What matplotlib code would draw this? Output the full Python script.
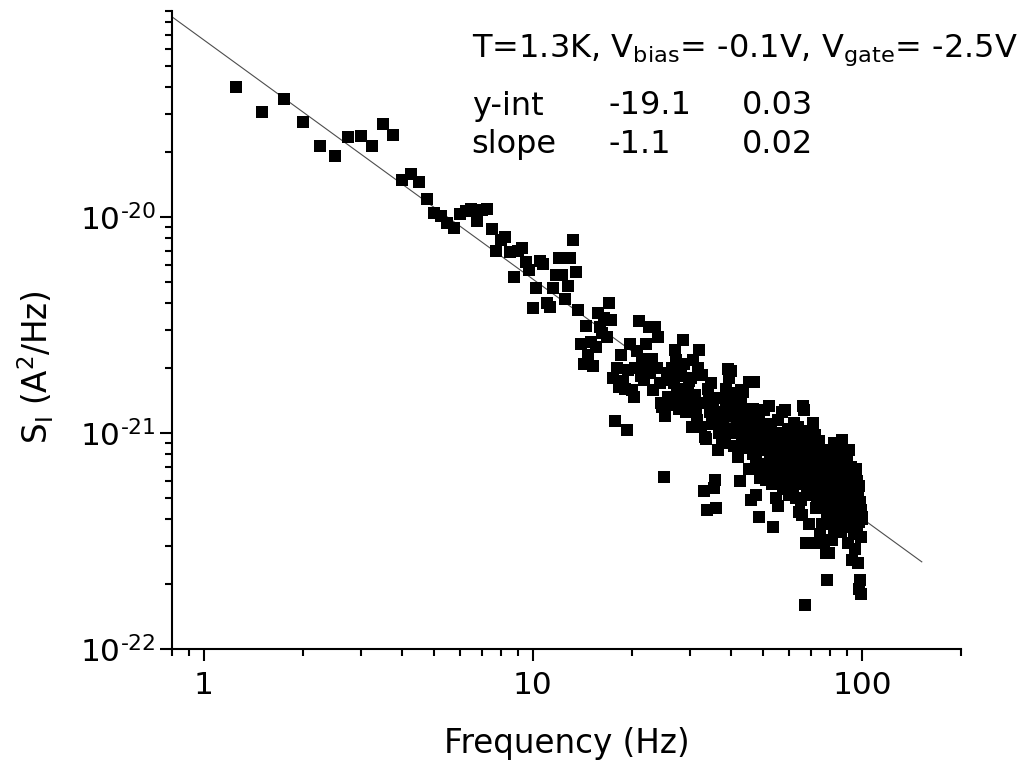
import numpy as np
import matplotlib
matplotlib.use('Agg')
import matplotlib.pyplot as plt
from matplotlib.ticker import LogLocator, FixedLocator, FuncFormatter, NullFormatter

plt.rcParams['font.family'] = ['DejaVu Sans']
plt.rcParams['mathtext.fontset'] = 'custom'
plt.rcParams['mathtext.rm'] = 'DejaVu Sans'
plt.rcParams['mathtext.it'] = 'DejaVu Sans:italic'

#%% data (0.25 Hz grid), S_I in units of 1e-21 A^2/Hz
freq = [1.25, 1.5, 1.75, 2.0, 2.25, 2.5, 2.75, 3.0,
        3.25, 3.5, 3.75, 4.0, 4.25, 4.5, 4.75, 5.0,
        5.25, 5.5, 5.75, 6.0, 6.25, 6.5, 6.75, 7.0,
        7.25, 7.5, 7.75, 8.0, 8.25, 8.5, 8.75, 9.0,
        9.25, 9.5, 9.75, 10.0, 10.25, 10.5, 10.75, 11.0,
        11.25, 11.5, 11.75, 12.0, 12.25, 12.5, 12.75, 13.0,
        13.25, 13.5, 13.75, 14.0, 14.25, 14.5, 14.75, 15.0,
        15.25, 15.5, 15.75, 16.0, 16.25, 16.5, 16.75, 17.0,
        17.25, 17.5, 17.75, 18.0, 18.25, 18.5, 18.75, 19.0,
        19.25, 19.5, 19.75, 20.0, 20.25, 20.5, 20.75, 21.0,
        21.25, 21.5, 21.75, 22.0, 22.25, 22.5, 22.75, 23.0,
        23.25, 23.5, 23.75, 24.0, 24.25, 24.5, 24.75, 25.0,
        25.25, 25.5, 25.75, 26.0, 26.25, 26.5, 26.75, 27.0,
        27.25, 27.5, 27.75, 28.0, 28.25, 28.5, 28.75, 29.0,
        29.25, 29.5, 29.75, 30.0, 30.25, 30.5, 30.75, 31.0,
        31.25, 31.5, 31.75, 32.0, 32.25, 32.5, 32.75, 33.0,
        33.25, 33.5, 33.75, 34.0, 34.25, 34.5, 34.75, 35.0,
        35.25, 35.5, 35.75, 36.0, 36.25, 36.5, 36.75, 37.0,
        37.25, 37.5, 37.75, 38.0, 38.25, 38.5, 38.75, 39.0,
        39.25, 39.5, 39.75, 40.0, 40.25, 40.5, 40.75, 41.0,
        41.25, 41.5, 41.75, 42.0, 42.25, 42.5, 42.75, 43.0,
        43.25, 43.5, 43.75, 44.0, 44.25, 44.5, 44.75, 45.0,
        45.25, 45.5, 45.75, 46.0, 46.25, 46.5, 46.75, 47.0,
        47.25, 47.5, 47.75, 48.0, 48.25, 48.5, 48.75, 49.0,
        49.25, 49.5, 49.75, 50.0, 50.25, 50.5, 50.75, 51.0,
        51.25, 51.5, 51.75, 52.0, 52.25, 52.5, 52.75, 53.0,
        53.25, 53.5, 53.75, 54.0, 54.25, 54.5, 54.75, 55.0,
        55.25, 55.5, 55.75, 56.0, 56.25, 56.5, 56.75, 57.0,
        57.25, 57.5, 57.75, 58.0, 58.25, 58.5, 58.75, 59.0,
        59.25, 59.5, 59.75, 60.0, 60.25, 60.5, 60.75, 61.0,
        61.25, 61.5, 61.75, 62.0, 62.25, 62.5, 62.75, 63.0,
        63.25, 63.5, 63.75, 64.0, 64.25, 64.5, 64.75, 65.0,
        65.25, 65.5, 65.75, 66.0, 66.25, 66.5, 66.75, 67.0,
        67.25, 67.5, 67.75, 68.0, 68.25, 68.5, 68.75, 69.0,
        69.25, 69.5, 69.75, 70.0, 70.25, 70.5, 70.75, 71.0,
        71.25, 71.5, 71.75, 72.0, 72.25, 72.5, 72.75, 73.0,
        73.25, 73.5, 73.75, 74.0, 74.25, 74.5, 74.75, 75.0,
        75.25, 75.5, 75.75, 76.0, 76.25, 76.5, 76.75, 77.0,
        77.25, 77.5, 77.75, 78.0, 78.25, 78.5, 78.75, 79.0,
        79.25, 79.5, 79.75, 80.0, 80.25, 80.5, 80.75, 81.0,
        81.25, 81.5, 81.75, 82.0, 82.25, 82.5, 82.75, 83.0,
        83.25, 83.5, 83.75, 84.0, 84.25, 84.5, 84.75, 85.0,
        85.25, 85.5, 85.75, 86.0, 86.25, 86.5, 86.75, 87.0,
        87.25, 87.5, 87.75, 88.0, 88.25, 88.5, 88.75, 89.0,
        89.25, 89.5, 89.75, 90.0, 90.25, 90.5, 90.75, 91.0,
        91.25, 91.5, 91.75, 92.0, 92.25, 92.5, 92.75, 93.0,
        93.25, 93.5, 93.75, 94.0, 94.25, 94.5, 94.75, 95.0,
        95.25, 95.5, 95.75, 96.0, 96.25, 96.5, 96.75, 97.0,
        97.25, 97.5, 97.75, 98.0, 98.25, 98.5, 98.75, 99.0,
        99.25, 99.5, 99.75, 100.0]

psd_e21 = [40.1, 30.6, 35.2, 27.5, 21.3, 19.1, 23.5, 23.8,
           21.3, 26.9, 23.9, 14.9, 15.9, 14.5, 12.1, 10.4,
           10.1, 9.35, 8.9, 10.3, 10.7, 10.9, 9.6, 10.8,
           10.9, 8.8, 7.0, 7.8, 8.1, 6.9, 5.3, 7.0,
           7.2, 6.2, 5.7, 3.8, 4.7, 6.3, 6.1, 4.0,
           3.85, 4.7, 5.4, 6.5, 5.4, 4.2, 4.8, 6.5,
           7.8, 5.6, 3.7, 2.6, 2.1, 3.15, 2.3, 2.65,
           2.05, 2.5, 3.6, 3.1, 2.9, 3.4, 2.8, 4.0,
           3.35, 1.8, 1.14, 2.0, 1.64, 2.3, 1.75, 1.6,
           1.03, 1.96, 2.6, 1.58, 1.47, 2.0, 2.4, 3.3,
           1.85, 2.2, 1.76, 2.6, 2.1, 3.1, 1.9, 2.2,
           1.58, 3.1, 2.0, 2.8, 1.7, 1.38, 1.32, 0.63,
           1.2, 1.76, 1.47, 1.9, 1.35, 2.0, 1.7, 2.43,
           2.18, 1.6, 1.3, 1.42, 1.85, 2.7, 2.1, 1.5,
           1.25, 1.58, 1.75, 1.4, 1.8, 1.07, 2.18, 1.5,
           1.28, 1.15, 2.0, 2.43, 1.38, 1.07, 1.86, 0.54,
           0.96, 0.94, 0.44, 1.6, 1.42, 1.25, 1.7, 1.1,
           1.3, 0.56, 0.61, 0.45, 1.19, 0.84, 1.0, 1.45,
           1.1, 0.9, 1.15, 1.25, 0.95, 1.6, 1.42, 1.05,
           1.99, 1.8, 1.3, 1.95, 1.47, 1.2, 0.87, 1.53,
           1.35, 1.0, 1.1, 0.78, 1.25, 0.6, 1.58, 1.4,
           0.92, 1.55, 1.15, 1.03, 0.85, 1.3, 0.97, 1.2,
           1.72, 0.68, 1.1, 0.49, 0.91, 1.3, 0.8, 1.72,
           1.05, 0.52, 0.75, 1.2, 0.95, 0.41, 1.15, 0.62,
           0.9, 0.7, 1.0, 0.85, 1.28, 0.84, 0.95, 0.61,
           1.1, 0.72, 0.88, 1.33, 0.65, 0.8, 1.05, 0.75,
           0.58, 0.92, 0.37, 0.7, 1.0, 0.82, 0.5, 0.96,
           0.66, 1.15, 0.46, 0.78, 0.9, 0.62, 1.0, 0.7,
           1.26, 0.85, 0.55, 0.93, 0.74, 1.28, 0.6, 0.9,
           0.68, 0.82, 1.05, 0.52, 0.85, 0.7, 1.0, 0.62,
           0.78, 0.95, 0.55, 0.75, 1.12, 0.66, 0.88, 0.5,
           0.8, 0.7, 1.07, 0.6, 0.9, 0.43, 0.74, 0.98,
           0.49, 0.82, 0.42, 0.68, 1.33, 0.58, 1.28, 0.76,
           0.16, 0.31, 0.88, 0.64, 0.52, 0.95, 0.7, 0.38,
           0.8, 0.6, 1.02, 0.72, 0.9, 0.55, 1.11, 0.66,
           0.31, 0.8, 0.98, 0.6, 0.72, 0.45, 0.86, 0.5,
           0.31, 0.7, 0.58, 0.92, 0.48, 0.64, 0.34, 0.76,
           0.55, 0.38, 0.84, 0.62, 0.45, 0.7, 0.31, 0.52,
           0.8, 0.58, 0.28, 0.66, 0.42, 0.21, 0.74, 0.5,
           0.6, 0.28, 0.44, 0.68, 0.55, 0.8, 0.4, 0.62,
           0.32, 0.7, 0.48, 0.9, 0.58, 0.36, 0.66, 0.5,
           0.75, 0.44, 0.6, 0.38, 0.85, 0.53, 0.68, 0.41,
           0.57, 0.72, 0.46, 0.63, 0.35, 0.55, 0.93, 0.5,
           0.7, 0.42, 0.6, 0.37, 0.78, 0.52, 0.65, 0.45,
           0.58, 0.4, 0.84, 0.56, 0.74, 0.48, 0.62, 0.31,
           0.55, 0.84, 0.43, 0.66, 0.5, 0.38, 0.7, 0.45,
           0.58, 0.26, 0.52, 0.64, 0.4, 0.6, 0.34, 0.56,
           0.47, 0.29, 0.68, 0.42, 0.53, 0.36, 0.6, 0.25,
           0.45, 0.5, 0.19, 0.57, 0.39, 0.21, 0.48, 0.44,
           0.33, 0.18, 0.41, 0.4]

# straight fit line as drawn (log10 S = a + b*log10 f)
fit_a = -19.18
fit_b = -1.107
fit_range = [0.8, 152]

x_major = [1, 10, 100]
y_major = [1e-22, 1e-21, 1e-20]

header = r'T=1.3K, V$_{\mathregular{bias}}$= -0.1V, V$_{\mathregular{gate}}$= -2.5V'
row_names = ['y-int', 'slope']
row_values = ['-19.1', '-1.1']
row_errors = ['0.03', '0.02']

#%% plot
W, H = 1026, 763
fig = plt.figure(figsize=(W/100, H/100), dpi=100)
ax = fig.add_axes([172/W, 1-649.3/H, (961-172)/W, (649.3-11)/H])

f_fit = np.array(fit_range)
ax.plot(f_fit, 10**(fit_a + fit_b*np.log10(f_fit)), color='0.3', lw=0.8, zorder=2)
ax.plot(freq, np.array(psd_e21)*1e-21, 's', ms=8, mfc='k', mec='k', mew=0, zorder=3)

ax.set_xscale('log')
ax.set_yscale('log')
ax.set_xlim(0.8, 200)
ax.set_ylim(1e-22, 9e-20)

for s in ['top', 'right']:
    ax.spines[s].set_visible(False)
for s in ['left', 'bottom']:
    ax.spines[s].set_linewidth(1.5)

ax.xaxis.set_major_locator(FixedLocator(x_major))
ax.yaxis.set_major_locator(FixedLocator(y_major))
ax.xaxis.set_minor_locator(LogLocator(base=10, subs=np.arange(2, 10)))
ax.yaxis.set_minor_locator(LogLocator(base=10, subs=np.arange(2, 10)))
ax.xaxis.set_major_formatter(FuncFormatter(lambda v, p: '%g' % v))
# hyphen (U+2010) in the exponent, like the original
ax.yaxis.set_major_formatter(FuncFormatter(
    lambda v, p: '$\\mathregular{10^{\u2010%d}}$' % abs(round(np.log10(v)))))
ax.xaxis.set_minor_formatter(NullFormatter())
ax.yaxis.set_minor_formatter(NullFormatter())
ax.tick_params(which='major', direction='out', length=8.6, width=1.5,
               labelsize=22.5)
ax.tick_params(axis='x', which='major', pad=7)
ax.tick_params(axis='y', which='major', pad=3)
ax.tick_params(which='minor', direction='out', length=5, width=1.5)

ax.set_xlabel('Frequency (Hz)', fontsize=23.5)
ax.set_ylabel(r'S$_\mathregular{I}$ (A$^\mathregular{2}$/Hz)', fontsize=23.5)
ax.xaxis.set_label_coords(0.5, -0.121)
ax.yaxis.set_label_coords(-0.147, 0.442)

fig.text(471.7/W, 1-56.7/H, header, fontsize=23, va='baseline')
for i, base in enumerate([114.5, 153.3]):
    fig.text(471.7/W, 1-base/H, row_names[i], fontsize=23, va='baseline')
    fig.text(608.3/W, 1-base/H, row_values[i], fontsize=23, va='baseline')
    fig.text(741.7/W, 1-base/H, row_errors[i], fontsize=23, va='baseline')

fig.savefig('out.png', dpi=100, facecolor='white')
